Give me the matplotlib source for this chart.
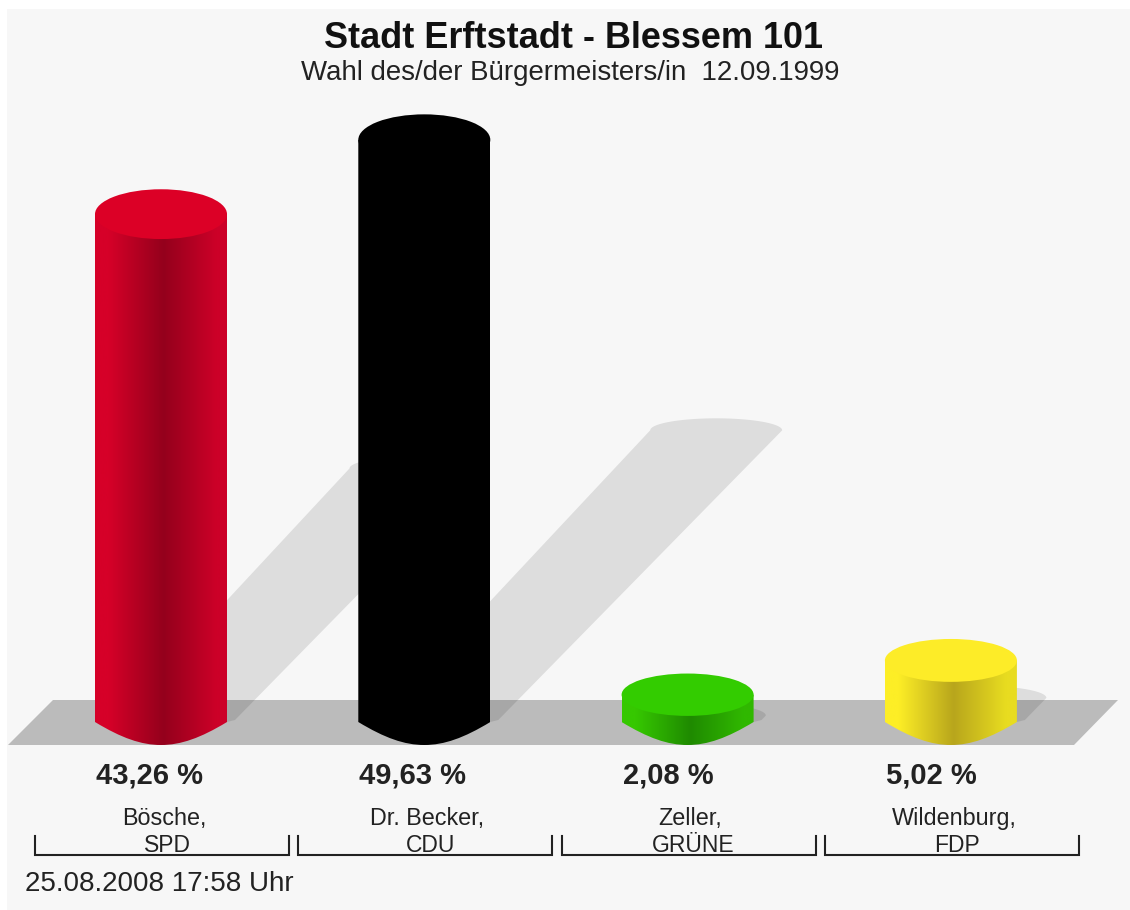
import numpy as np
import matplotlib
matplotlib.use("Agg")
import matplotlib.pyplot as plt
from matplotlib.colors import LinearSegmentedColormap
from matplotlib.path import Path
from matplotlib.patches import Ellipse, Polygon

plt.rcParams['font.family'] = ['Liberation Sans', 'DejaVu Sans']

# data
title = "Stadt Erftstadt - Blessem 101"
subtitle = "Wahl des/der Bürgermeisters/in  12.09.1999"
footer = "25.08.2008 17:58 Uhr"
names = ["Bösche,", "Dr. Becker,", "Zeller,", "Wildenburg,"]
parties = ["SPD", "CDU", "GRÜNE", "FDP"]
values = [43.26, 49.63, 2.08, 5.02]
value_labels = ["43,26 %", "49,63 %", "2,08 %", "5,02 %"]

# colours: disc on top, left side of the cylinder, dark middle stripe, right side
top_colors = ["#dc0026", "#000000", "#33cc00", "#fdec28"]
left_colors = ["#d60028", "#000000", "#36c800", "#fdee26"]
dark_colors = ["#94001c", "#000000", "#1f8a00", "#b8a61c"]
right_colors = ["#cc0028", "#000000", "#30b800", "#e8dc20"]

W, H = 1130, 910
X0, STEP = 161, 263.3     # pixel of first bar, pixels between bars
BASE, PCT = 719, 11.67    # pixel of 0 %, pixels per percent
BG = "#f7f7f7"

fig = plt.figure(figsize=(W / 100, H / 100), dpi=100, facecolor="white")
ax = fig.add_axes([0, 0, 1, 1])
ax.set_xlim(-X0 / STEP, (W - X0) / STEP)
ax.set_ylim((BASE - H) / PCT, BASE / PCT)
ax.axis("off")


def xs(px):
    return px / STEP


def ys(px):
    return px / PCT


def px_x(p):
    return (p - X0) / STEP


def px_y(p):
    return (BASE - p) / PCT


hw = xs(66)

# page and floor
ax.add_patch(Polygon([(px_x(7), px_y(9)), (px_x(1130), px_y(9)), (px_x(1130), px_y(910)), (px_x(7), px_y(910))],
                     fc=BG, ec="none", zorder=0))
ax.add_patch(Polygon([(px_x(8), px_y(745)), (px_x(53), px_y(700)), (px_x(1118), px_y(700)), (px_x(1074), px_y(745))],
                     fc="#bbbbbb", ec="none", zorder=1))

# shadows
for i, v in enumerate(values):
    base_y = -ys(9)
    top_x = i + v * PCT * 0.504 / STEP
    top_y = base_y + v * 0.514
    t = np.linspace(np.pi, 0, 40)
    arc = np.column_stack([top_x + hw * np.cos(t), top_y + ys(12) * np.sin(t)])
    pts = np.vstack([[(i - hw * 0.8, base_y)], arc, [(i + hw + xs(8), -ys(1)), (i + hw, -ys(3))]])
    ax.add_patch(Polygon(pts, fc="black", alpha=0.1, ec="none", zorder=2))

# cylinders
for i, v in enumerate(values):
    disc = ys(21 + 0.09 * v)
    cmap = LinearSegmentedColormap.from_list("c", [
        (0, left_colors[i]), (0.1, left_colors[i]), (0.52, dark_colors[i]),
        (0.92, right_colors[i]), (1, right_colors[i])])
    body = Path([(i - hw, v), (i - hw, -ys(3)),
                 (i - hw * 0.6, -ys(19)), (i - hw * 0.3, -ys(26)), (i, -ys(26)),
                 (i + hw * 0.3, -ys(26)), (i + hw * 0.6, -ys(19)), (i + hw, -ys(3)),
                 (i + hw, v), (i - hw, v)],
                [Path.MOVETO, Path.LINETO,
                 Path.CURVE4, Path.CURVE4, Path.CURVE4,
                 Path.CURVE4, Path.CURVE4, Path.CURVE4,
                 Path.LINETO, Path.CLOSEPOLY])
    grad = np.linspace(0, 1, 256).reshape(1, -1)
    im = ax.imshow(grad, cmap=cmap, aspect="auto", zorder=3,
                   extent=(i - hw, i + hw, -ys(30), v + disc))
    im.set_clip_path(body, ax.transData)
    ax.add_patch(Ellipse((i, v), 2 * hw, 2 * disc, fc=top_colors[i], ec="none", zorder=4))
ax.set_xlim(-X0 / STEP, (W - X0) / STEP)
ax.set_ylim((BASE - H) / PCT, BASE / PCT)

# titles
ax.text(px_x(574), px_y(38), title, fontsize=25.9, fontweight="bold", color="#111111",
        ha="center", va="center", zorder=5)
ax.text(px_x(570), px_y(73), subtitle, fontsize=19.9, color="#222222",
        ha="center", va="center", zorder=5)

# labels below the bars
for i in range(len(values)):
    ax.text(i - hw + xs(1), px_y(776), value_labels[i], fontsize=21, fontweight="bold", color="#222222",
            ha="left", va="center", zorder=5)
    ax.text(i + xs(3), px_y(818), names[i], fontsize=16.8, color="#222222",
            ha="center", va="center", zorder=5)
    ax.text(i + xs(6), px_y(845), parties[i], fontsize=16.5, color="#222222",
            ha="center", va="center", zorder=5)
    left, right = i - xs(126), i + xs(128)
    ax.plot([left, left, right, right], [px_y(836), px_y(855), px_y(855), px_y(836)],
            color="#222222", lw=1.5, solid_joinstyle="miter", zorder=5)

ax.text(px_x(25), px_y(884), footer, fontsize=20, color="#222222", ha="left", va="center", zorder=5)

fig.savefig("out.png", dpi=100, facecolor=fig.get_facecolor())
